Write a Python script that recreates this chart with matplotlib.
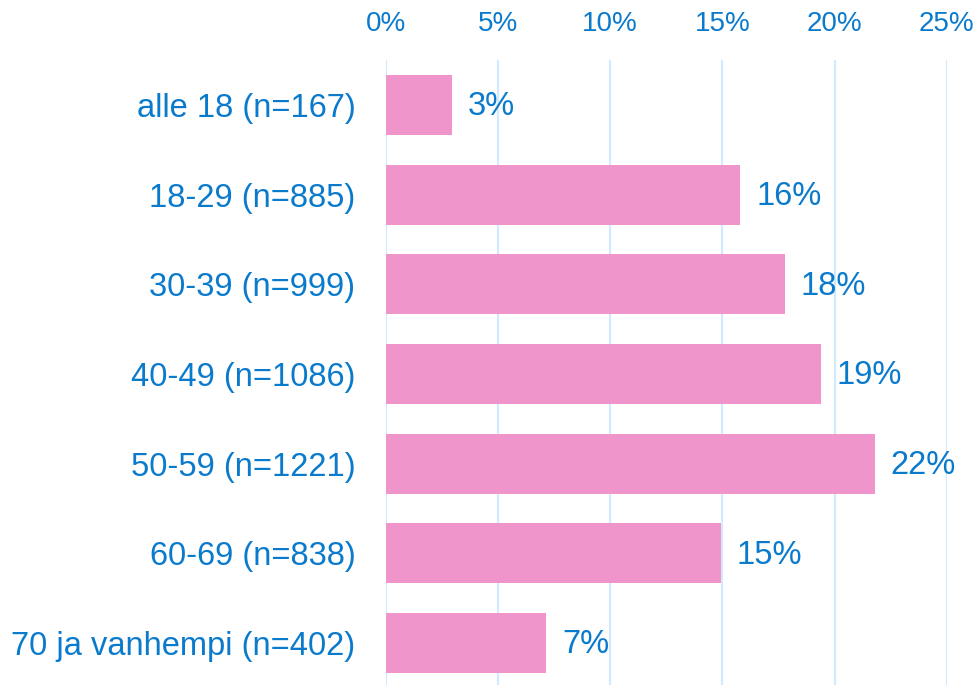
import matplotlib as mpl
import matplotlib.pyplot as plt

TEXT = '#0a7acc'
mpl.rcParams['font.family'] = ['Liberation Sans', 'DejaVu Sans']
mpl.rcParams['font.size'] = 20

groups = ['alle 18 (n=167)', '18-29 (n=885)', '30-39 (n=999)', '40-49 (n=1086)',
          '50-59 (n=1221)', '60-69 (n=838)', '70 ja vanhempi (n=402)']
values = [2.94, 15.8, 17.8, 19.4, 21.8, 14.95, 7.15]
labels = ['3%', '16%', '18%', '19%', '22%', '15%', '7%']
ticks = [0, 5, 10, 15, 20, 25]

fig = plt.figure(figsize=(9.77, 6.85), dpi=100)
ax = fig.add_axes([0.395, 0.0, 0.574, 0.912])

ypos = list(range(len(groups)))
ax.barh(ypos, values, height=0.67, color='#f094cc', zorder=2)
for y, v, lab in zip(ypos, values, labels):
    ax.text(v + 0.7, y + 0.02, lab, va='center', ha='left', color=TEXT, fontsize=23.5)

ax.set_xlim(0, 25)
ax.set_ylim(6.47, -0.5)
ax.set_xticks(ticks)
ax.set_xticklabels([f'{t}%' for t in ticks])
ax.set_yticks(ypos)
ax.set_yticklabels(groups)
ax.xaxis.tick_top()
ax.tick_params(axis='x', length=0, pad=17, colors=TEXT, labelsize=20)
ax.tick_params(axis='y', length=0, pad=22, colors=TEXT, labelsize=23.5)
ax.grid(True, axis='x', color='#d2eafb', linewidth=1.6, zorder=0)
for s in ax.spines.values():
    s.set_visible(False)

fig.savefig('out.png', dpi=100)
